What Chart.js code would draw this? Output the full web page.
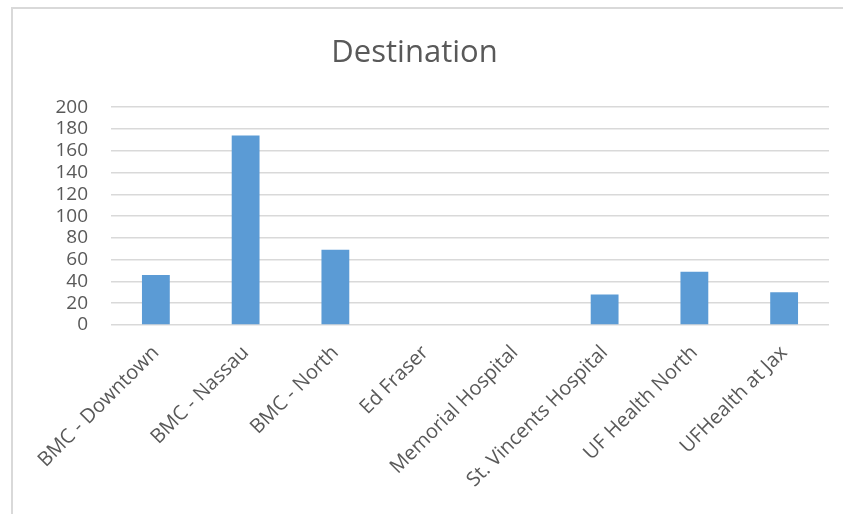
<!DOCTYPE html>
<html>
<head>
<meta charset="utf-8">
<script src="https://cdn.jsdelivr.net/npm/chart.js@4"></script>
<style>
    html, body { margin: 0; padding: 0; background: #fff; }
    #wrap { position: relative; width: 843px; height: 514px; overflow: hidden; }
    #frame { position: absolute; left: 11px; top: 7px; width: 900px; height: 600px;
             border-left: 2px solid #d9d9d9; border-top: 2px solid #d9d9d9; }
    canvas { position: absolute; left: 0; top: 0; }
</style>
</head>
<body>
<div id="wrap">
    <div id="frame"></div>
    <canvas id="destChart" width="843" height="514"></canvas>
</div>
<script>
// Chart data
const destinations = ['BMC - Downtown', 'BMC - Nassau', 'BMC - North', 'Ed Fraser',
    'Memorial Hospital', 'St. Vincents Hospital', 'UF Health North', 'UFHealth at Jax'];
const counts = [46, 174, 69, 0, 0, 28, 49, 30];
const yTicks = [0, 20, 40, 60, 80, 100, 120, 140, 160, 180, 200];

const textColor = '#595959';
const gridColor = '#d9d9d9';

document.addEventListener('DOMContentLoaded', function() {
    const ctx = document.getElementById('destChart').getContext('2d');
    new Chart(ctx, {
        type: 'bar',
        data: {
            labels: destinations,
            datasets: [{
                data: counts,
                backgroundColor: '#5b9bd5',
                borderWidth: 0,
                barPercentage: 0.31,
                categoryPercentage: 1.0
            }]
        },
        options: {
            responsive: false,
            animation: false,
            layout: { padding: { left: 0, right: 14, top: 0, bottom: 0 } },
            plugins: {
                legend: { display: false },
                tooltip: { enabled: false },
                title: {
                    display: true,
                    text: 'Destination',
                    color: textColor,
                    font: { family: 'Open Sans', size: 31, weight: 'normal' },
                    padding: { top: 35, bottom: 35 }
                }
            },
            scales: {
                x: {
                    grid: { display: false },
                    border: { display: false },
                    ticks: {
                        color: textColor,
                        font: { family: 'Open Sans', size: 20 },
                        minRotation: 45,
                        maxRotation: 45,
                        autoSkip: false,
                        padding: 8
                    },
                    afterFit: function(scale) { scale.height = 189; }
                },
                y: {
                    min: 0,
                    max: 200,
                    afterBuildTicks: function(scale) {
                        scale.ticks = yTicks.map(v => ({ value: v }));
                    },
                    grid: { color: gridColor, lineWidth: 1.5, drawTicks: false },
                    border: { display: false },
                    ticks: {
                        color: textColor,
                        font: { family: 'Open Sans', size: 19 },
                        autoSkip: false,
                        padding: 23
                    },
                    afterFit: function(scale) { scale.width = 111; }
                }
            }
        }
    });
});
</script>
</body>
</html>
